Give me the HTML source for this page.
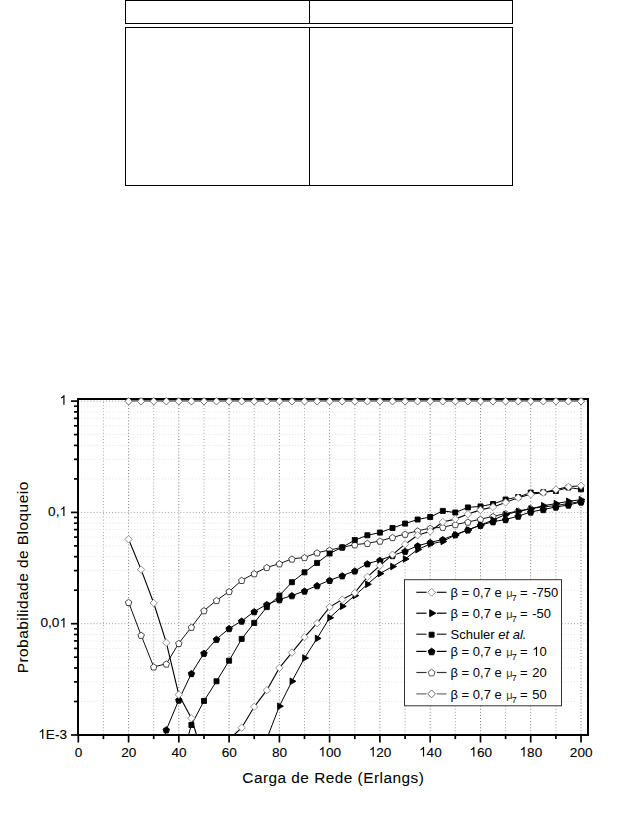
<!DOCTYPE html><html><head><meta charset="utf-8"><style>html,body{margin:0;padding:0;background:#fff;width:638px;height:821px;overflow:hidden}svg{position:absolute;left:0;top:0}text{font-family:"Liberation Sans",sans-serif;fill:#000}</style></head><body>
<svg width="638" height="821" viewBox="0 0 638 821">
<g fill="#000" shape-rendering="crispEdges">
<rect x="125" y="0" width="388" height="1"/>
<rect x="125" y="23" width="388" height="1"/>
<rect x="125" y="0" width="1" height="24"/>
<rect x="512" y="0" width="1" height="24"/>
<rect x="309" y="0" width="1" height="24"/>
<rect x="125" y="27" width="388" height="1"/>
<rect x="125" y="185" width="388" height="1"/>
<rect x="125" y="27" width="1" height="159"/>
<rect x="512" y="27" width="1" height="159"/>
<rect x="309" y="27" width="1" height="159"/>
</g>
<line x1="103.4" y1="398.7" x2="103.4" y2="734.9" stroke="#a0a0a0" stroke-width="1" stroke-dasharray="1 2.1"/>
<line x1="128.6" y1="398.7" x2="128.6" y2="734.9" stroke="#7a7a7a" stroke-width="1" stroke-dasharray="1 2.1"/>
<line x1="153.7" y1="398.7" x2="153.7" y2="734.9" stroke="#a0a0a0" stroke-width="1" stroke-dasharray="1 2.1"/>
<line x1="178.8" y1="398.7" x2="178.8" y2="734.9" stroke="#7a7a7a" stroke-width="1" stroke-dasharray="1 2.1"/>
<line x1="204.0" y1="398.7" x2="204.0" y2="734.9" stroke="#a0a0a0" stroke-width="1" stroke-dasharray="1 2.1"/>
<line x1="229.1" y1="398.7" x2="229.1" y2="734.9" stroke="#7a7a7a" stroke-width="1" stroke-dasharray="1 2.1"/>
<line x1="254.2" y1="398.7" x2="254.2" y2="734.9" stroke="#a0a0a0" stroke-width="1" stroke-dasharray="1 2.1"/>
<line x1="279.4" y1="398.7" x2="279.4" y2="734.9" stroke="#7a7a7a" stroke-width="1" stroke-dasharray="1 2.1"/>
<line x1="304.5" y1="398.7" x2="304.5" y2="734.9" stroke="#a0a0a0" stroke-width="1" stroke-dasharray="1 2.1"/>
<line x1="329.6" y1="398.7" x2="329.6" y2="734.9" stroke="#7a7a7a" stroke-width="1" stroke-dasharray="1 2.1"/>
<line x1="354.8" y1="398.7" x2="354.8" y2="734.9" stroke="#a0a0a0" stroke-width="1" stroke-dasharray="1 2.1"/>
<line x1="379.9" y1="398.7" x2="379.9" y2="734.9" stroke="#7a7a7a" stroke-width="1" stroke-dasharray="1 2.1"/>
<line x1="405.1" y1="398.7" x2="405.1" y2="734.9" stroke="#a0a0a0" stroke-width="1" stroke-dasharray="1 2.1"/>
<line x1="430.2" y1="398.7" x2="430.2" y2="734.9" stroke="#7a7a7a" stroke-width="1" stroke-dasharray="1 2.1"/>
<line x1="455.3" y1="398.7" x2="455.3" y2="734.9" stroke="#a0a0a0" stroke-width="1" stroke-dasharray="1 2.1"/>
<line x1="480.5" y1="398.7" x2="480.5" y2="734.9" stroke="#7a7a7a" stroke-width="1" stroke-dasharray="1 2.1"/>
<line x1="505.6" y1="398.7" x2="505.6" y2="734.9" stroke="#a0a0a0" stroke-width="1" stroke-dasharray="1 2.1"/>
<line x1="530.7" y1="398.7" x2="530.7" y2="734.9" stroke="#7a7a7a" stroke-width="1" stroke-dasharray="1 2.1"/>
<line x1="555.9" y1="398.7" x2="555.9" y2="734.9" stroke="#a0a0a0" stroke-width="1" stroke-dasharray="1 2.1"/>
<line x1="581.0" y1="398.7" x2="581.0" y2="734.9" stroke="#7a7a7a" stroke-width="1" stroke-dasharray="1 2.1"/>
<line x1="78.0" y1="512.4" x2="588.3" y2="512.4" stroke="#9a9a9a" stroke-width="1" stroke-dasharray="1 2.1"/>
<line x1="78.0" y1="478.9" x2="588.3" y2="478.9" stroke="#e2e2e2" stroke-width="1" stroke-dasharray="1 2.1"/>
<line x1="78.0" y1="459.3" x2="588.3" y2="459.3" stroke="#e2e2e2" stroke-width="1" stroke-dasharray="1 2.1"/>
<line x1="78.0" y1="445.4" x2="588.3" y2="445.4" stroke="#e2e2e2" stroke-width="1" stroke-dasharray="1 2.1"/>
<line x1="78.0" y1="434.6" x2="588.3" y2="434.6" stroke="#e2e2e2" stroke-width="1" stroke-dasharray="1 2.1"/>
<line x1="78.0" y1="425.8" x2="588.3" y2="425.8" stroke="#e2e2e2" stroke-width="1" stroke-dasharray="1 2.1"/>
<line x1="78.0" y1="418.3" x2="588.3" y2="418.3" stroke="#e2e2e2" stroke-width="1" stroke-dasharray="1 2.1"/>
<line x1="78.0" y1="411.9" x2="588.3" y2="411.9" stroke="#e2e2e2" stroke-width="1" stroke-dasharray="1 2.1"/>
<line x1="78.0" y1="406.2" x2="588.3" y2="406.2" stroke="#e2e2e2" stroke-width="1" stroke-dasharray="1 2.1"/>
<line x1="78.0" y1="623.7" x2="588.3" y2="623.7" stroke="#9a9a9a" stroke-width="1" stroke-dasharray="1 2.1"/>
<line x1="78.0" y1="590.2" x2="588.3" y2="590.2" stroke="#e2e2e2" stroke-width="1" stroke-dasharray="1 2.1"/>
<line x1="78.0" y1="570.6" x2="588.3" y2="570.6" stroke="#e2e2e2" stroke-width="1" stroke-dasharray="1 2.1"/>
<line x1="78.0" y1="556.7" x2="588.3" y2="556.7" stroke="#e2e2e2" stroke-width="1" stroke-dasharray="1 2.1"/>
<line x1="78.0" y1="545.9" x2="588.3" y2="545.9" stroke="#e2e2e2" stroke-width="1" stroke-dasharray="1 2.1"/>
<line x1="78.0" y1="537.1" x2="588.3" y2="537.1" stroke="#e2e2e2" stroke-width="1" stroke-dasharray="1 2.1"/>
<line x1="78.0" y1="529.6" x2="588.3" y2="529.6" stroke="#e2e2e2" stroke-width="1" stroke-dasharray="1 2.1"/>
<line x1="78.0" y1="523.2" x2="588.3" y2="523.2" stroke="#e2e2e2" stroke-width="1" stroke-dasharray="1 2.1"/>
<line x1="78.0" y1="517.5" x2="588.3" y2="517.5" stroke="#e2e2e2" stroke-width="1" stroke-dasharray="1 2.1"/>
<line x1="78.0" y1="701.5" x2="588.3" y2="701.5" stroke="#e2e2e2" stroke-width="1" stroke-dasharray="1 2.1"/>
<line x1="78.0" y1="681.9" x2="588.3" y2="681.9" stroke="#e2e2e2" stroke-width="1" stroke-dasharray="1 2.1"/>
<line x1="78.0" y1="668.0" x2="588.3" y2="668.0" stroke="#e2e2e2" stroke-width="1" stroke-dasharray="1 2.1"/>
<line x1="78.0" y1="657.2" x2="588.3" y2="657.2" stroke="#e2e2e2" stroke-width="1" stroke-dasharray="1 2.1"/>
<line x1="78.0" y1="648.4" x2="588.3" y2="648.4" stroke="#e2e2e2" stroke-width="1" stroke-dasharray="1 2.1"/>
<line x1="78.0" y1="640.9" x2="588.3" y2="640.9" stroke="#e2e2e2" stroke-width="1" stroke-dasharray="1 2.1"/>
<line x1="78.0" y1="634.5" x2="588.3" y2="634.5" stroke="#e2e2e2" stroke-width="1" stroke-dasharray="1 2.1"/>
<line x1="78.0" y1="628.8" x2="588.3" y2="628.8" stroke="#e2e2e2" stroke-width="1" stroke-dasharray="1 2.1"/>
<line x1="78.0" y1="401.1" x2="588.3" y2="401.1" stroke="#9a9a9a" stroke-width="1" stroke-dasharray="1 2.1"/>
<g stroke="#000" stroke-width="1.7" fill="none">
<line x1="71" y1="401.1" x2="78.0" y2="401.1"/>
<line x1="71" y1="512.4" x2="78.0" y2="512.4"/>
<line x1="71" y1="623.7" x2="78.0" y2="623.7"/>
<line x1="71" y1="735.0" x2="78.0" y2="735.0"/>
<line x1="74" y1="478.9" x2="78.0" y2="478.9"/>
<line x1="74" y1="459.3" x2="78.0" y2="459.3"/>
<line x1="74" y1="445.4" x2="78.0" y2="445.4"/>
<line x1="74" y1="434.6" x2="78.0" y2="434.6"/>
<line x1="74" y1="425.8" x2="78.0" y2="425.8"/>
<line x1="74" y1="418.3" x2="78.0" y2="418.3"/>
<line x1="74" y1="411.9" x2="78.0" y2="411.9"/>
<line x1="74" y1="406.2" x2="78.0" y2="406.2"/>
<line x1="74" y1="590.2" x2="78.0" y2="590.2"/>
<line x1="74" y1="570.6" x2="78.0" y2="570.6"/>
<line x1="74" y1="556.7" x2="78.0" y2="556.7"/>
<line x1="74" y1="545.9" x2="78.0" y2="545.9"/>
<line x1="74" y1="537.1" x2="78.0" y2="537.1"/>
<line x1="74" y1="529.6" x2="78.0" y2="529.6"/>
<line x1="74" y1="523.2" x2="78.0" y2="523.2"/>
<line x1="74" y1="517.5" x2="78.0" y2="517.5"/>
<line x1="74" y1="701.5" x2="78.0" y2="701.5"/>
<line x1="74" y1="681.9" x2="78.0" y2="681.9"/>
<line x1="74" y1="668.0" x2="78.0" y2="668.0"/>
<line x1="74" y1="657.2" x2="78.0" y2="657.2"/>
<line x1="74" y1="648.4" x2="78.0" y2="648.4"/>
<line x1="74" y1="640.9" x2="78.0" y2="640.9"/>
<line x1="74" y1="634.5" x2="78.0" y2="634.5"/>
<line x1="74" y1="628.8" x2="78.0" y2="628.8"/>
<line x1="78.3" y1="734.9" x2="78.3" y2="742.5"/>
<line x1="103.4" y1="734.9" x2="103.4" y2="739.1"/>
<line x1="128.6" y1="734.9" x2="128.6" y2="742.5"/>
<line x1="153.7" y1="734.9" x2="153.7" y2="739.1"/>
<line x1="178.8" y1="734.9" x2="178.8" y2="742.5"/>
<line x1="204.0" y1="734.9" x2="204.0" y2="739.1"/>
<line x1="229.1" y1="734.9" x2="229.1" y2="742.5"/>
<line x1="254.2" y1="734.9" x2="254.2" y2="739.1"/>
<line x1="279.4" y1="734.9" x2="279.4" y2="742.5"/>
<line x1="304.5" y1="734.9" x2="304.5" y2="739.1"/>
<line x1="329.6" y1="734.9" x2="329.6" y2="742.5"/>
<line x1="354.8" y1="734.9" x2="354.8" y2="739.1"/>
<line x1="379.9" y1="734.9" x2="379.9" y2="742.5"/>
<line x1="405.1" y1="734.9" x2="405.1" y2="739.1"/>
<line x1="430.2" y1="734.9" x2="430.2" y2="742.5"/>
<line x1="455.3" y1="734.9" x2="455.3" y2="739.1"/>
<line x1="480.5" y1="734.9" x2="480.5" y2="742.5"/>
<line x1="505.6" y1="734.9" x2="505.6" y2="739.1"/>
<line x1="530.7" y1="734.9" x2="530.7" y2="742.5"/>
<line x1="555.9" y1="734.9" x2="555.9" y2="739.1"/>
<line x1="581.0" y1="734.9" x2="581.0" y2="742.5"/>
</g>
<g font-size="13.6" stroke="#000" stroke-width="0.1">
<text x="78.5" y="756.5" text-anchor="middle">0</text>
<text x="128.8" y="756.5" text-anchor="middle">20</text>
<text x="179.0" y="756.5" text-anchor="middle">40</text>
<text x="229.3" y="756.5" text-anchor="middle">60</text>
<text x="279.6" y="756.5" text-anchor="middle">80</text>
<text x="329.8" y="756.5" text-anchor="middle"> 00</text>
<text x="380.1" y="756.5" text-anchor="middle"> 20</text>
<text x="430.4" y="756.5" text-anchor="middle"> 40</text>
<text x="480.7" y="756.5" text-anchor="middle"> 60</text>
<text x="530.9" y="756.5" text-anchor="middle"> 80</text>
<text x="581.2" y="756.5" text-anchor="middle">200</text>
<text x="67.0" y="404.8" text-anchor="end"> </text>
<text x="67.0" y="516.1" text-anchor="end">0, </text>
<text x="67.0" y="627.4" text-anchor="end">0,0 </text>
<text x="67.0" y="738.7" text-anchor="end"> E-3</text>
</g>
<text x="242.3" y="782.7" font-size="15.4" stroke="#000" stroke-width="0.05" textLength="181.5" lengthAdjust="spacing">Carga de Rede (Erlangs)</text>
<text transform="translate(28.4,673.3) rotate(-90)" font-size="15.4" stroke="#000" stroke-width="0.05" textLength="191.5" lengthAdjust="spacing">Probabilidade de Bloqueio</text>
<g fill="#000" shape-rendering="crispEdges">
<rect x="77" y="398" width="512" height="2"/>
<rect x="77" y="734" width="512" height="2"/>
<rect x="77" y="398" width="2" height="338"/>
<rect x="587" y="398" width="2" height="338"/>
</g>
<clipPath id="cp"><rect x="78.0" y="398.7" width="510.29999999999995" height="336.2"/></clipPath>
<path clip-path="url(#cp)" d="M128.6,602.3L141.1,635.2L153.7,666.8L166.3,663.9L178.8,643.3L191.4,627.2L204.0,610.6L216.5,600.4L229.1,591.5L241.7,580.3L254.2,573.6L266.8,567.4L279.4,563.7L291.9,558.9L304.5,557.5L317.1,552.7L329.6,550.0L342.2,547.3L354.8,544.7L367.4,543.3L379.9,541.0L392.5,537.4L405.1,534.1L417.6,530.8L430.2,528.2L442.8,527.2L455.3,524.5L467.9,522.0L480.5,519.2L493.0,516.4L505.6,513.5L518.2,511.0L530.7,508.5L543.3,507.0L555.9,505.5L568.4,503.5L581.0,501.5" fill="none" stroke="#111" stroke-width="1.0"/>
<path d="M128.6,599.3L131.8,601.6L130.6,605.5L126.6,605.5L125.3,601.6ZM141.1,632.2L144.4,634.5L143.1,638.4L139.1,638.4L137.9,634.5ZM153.7,663.8L156.9,666.1L155.7,670.0L151.7,670.0L150.5,666.1ZM166.3,660.9L169.5,663.2L168.3,667.1L164.3,667.1L163.0,663.2ZM178.8,640.3L182.1,642.6L180.8,646.5L176.8,646.5L175.6,642.6ZM191.4,624.2L194.6,626.5L193.4,630.4L189.4,630.4L188.2,626.5ZM204.0,607.6L207.2,609.9L206.0,613.8L202.0,613.8L200.7,609.9ZM216.5,597.4L219.8,599.7L218.5,603.6L214.5,603.6L213.3,599.7ZM229.1,588.5L232.3,590.8L231.1,594.7L227.1,594.7L225.9,590.8ZM241.7,577.3L244.9,579.6L243.7,583.5L239.7,583.5L238.4,579.6ZM254.2,570.6L257.5,572.9L256.2,576.8L252.2,576.8L251.0,572.9ZM266.8,564.4L270.0,566.7L268.8,570.6L264.8,570.6L263.6,566.7ZM279.4,560.7L282.6,563.0L281.4,566.9L277.4,566.9L276.1,563.0ZM291.9,555.9L295.2,558.2L293.9,562.1L289.9,562.1L288.7,558.2ZM304.5,554.5L307.7,556.8L306.5,560.7L302.5,560.7L301.3,556.8ZM317.1,549.7L320.3,552.0L319.1,555.9L315.1,555.9L313.8,552.0ZM329.6,547.0L332.9,549.3L331.6,553.2L327.7,553.2L326.4,549.3ZM342.2,544.3L345.5,546.6L344.2,550.5L340.2,550.5L339.0,546.6ZM354.8,541.7L358.0,544.0L356.8,547.9L352.8,547.9L351.6,544.0ZM367.4,540.3L370.6,542.6L369.4,546.5L365.4,546.5L364.1,542.6ZM379.9,538.0L383.2,540.3L381.9,544.2L377.9,544.2L376.7,540.3ZM392.5,534.4L395.7,536.7L394.5,540.6L390.5,540.6L389.3,536.7ZM405.1,531.1L408.3,533.4L407.1,537.3L403.1,537.3L401.8,533.4ZM417.6,527.8L420.9,530.1L419.6,534.0L415.6,534.0L414.4,530.1ZM430.2,525.2L433.4,527.5L432.2,531.4L428.2,531.4L427.0,527.5ZM442.8,524.2L446.0,526.5L444.8,530.4L440.8,530.4L439.5,526.5ZM455.3,521.5L458.6,523.8L457.3,527.7L453.3,527.7L452.1,523.8ZM467.9,519.0L471.1,521.3L469.9,525.2L465.9,525.2L464.7,521.3ZM480.5,516.2L483.7,518.5L482.5,522.4L478.5,522.4L477.2,518.5ZM493.0,513.4L496.3,515.7L495.0,519.6L491.0,519.6L489.8,515.7ZM505.6,510.5L508.8,512.8L507.6,516.7L503.6,516.7L502.4,512.8ZM518.2,508.0L521.4,510.3L520.2,514.2L516.2,514.2L514.9,510.3ZM530.7,505.5L534.0,507.8L532.7,511.7L528.7,511.7L527.5,507.8ZM543.3,504.0L546.5,506.3L545.3,510.2L541.3,510.2L540.1,506.3ZM555.9,502.5L559.1,504.8L557.9,508.7L553.9,508.7L552.6,504.8ZM568.4,500.5L571.7,502.8L570.4,506.7L566.4,506.7L565.2,502.8ZM581.0,498.5L584.2,500.8L583.0,504.7L579.0,504.7L577.8,500.8Z" fill="#fff" stroke="#333" stroke-width="0.9"/>
<path clip-path="url(#cp)" d="M188.5,735.0L191.4,725.0L204.0,700.9L216.5,681.3L229.1,660.7L241.7,638.9L254.2,622.9L266.8,607.1L279.4,595.6L291.9,582.2L304.5,572.3L317.1,562.9L329.6,553.5L342.2,547.3L354.8,540.1L367.4,535.3L379.9,532.6L392.5,528.0L405.1,523.6L417.6,519.5L430.2,517.0L442.8,510.9L455.3,512.5L467.9,507.4L480.5,506.4L493.0,504.0L505.6,499.5L518.2,497.0L530.7,492.6L543.3,492.3L555.9,491.0L568.4,487.5L581.0,489.3" fill="none" stroke="#000" stroke-width="1.0"/>
<path d="M188.9,722.5h5.0v5.0h-5.0ZM201.5,698.4h5.0v5.0h-5.0ZM214.0,678.8h5.0v5.0h-5.0ZM226.6,658.2h5.0v5.0h-5.0ZM239.2,636.4h5.0v5.0h-5.0ZM251.7,620.4h5.0v5.0h-5.0ZM264.3,604.6h5.0v5.0h-5.0ZM276.9,593.1h5.0v5.0h-5.0ZM289.4,579.7h5.0v5.0h-5.0ZM302.0,569.8h5.0v5.0h-5.0ZM314.6,560.4h5.0v5.0h-5.0ZM327.1,551.0h5.0v5.0h-5.0ZM339.7,544.8h5.0v5.0h-5.0ZM352.3,537.6h5.0v5.0h-5.0ZM364.9,532.8h5.0v5.0h-5.0ZM377.4,530.1h5.0v5.0h-5.0ZM390.0,525.5h5.0v5.0h-5.0ZM402.6,521.1h5.0v5.0h-5.0ZM415.1,517.0h5.0v5.0h-5.0ZM427.7,514.5h5.0v5.0h-5.0ZM440.3,508.4h5.0v5.0h-5.0ZM452.8,510.0h5.0v5.0h-5.0ZM465.4,504.9h5.0v5.0h-5.0ZM478.0,503.9h5.0v5.0h-5.0ZM490.5,501.5h5.0v5.0h-5.0ZM503.1,497.0h5.0v5.0h-5.0ZM515.7,494.5h5.0v5.0h-5.0ZM528.2,490.1h5.0v5.0h-5.0ZM540.8,489.8h5.0v5.0h-5.0ZM553.4,488.5h5.0v5.0h-5.0ZM565.9,485.0h5.0v5.0h-5.0ZM578.5,486.8h5.0v5.0h-5.0Z" fill="#000" stroke="#000" stroke-width="0.9"/>
<path clip-path="url(#cp)" d="M161.2,760.0L166.3,729.8L178.8,700.0L191.4,673.5L204.0,653.2L216.5,639.2L229.1,628.5L241.7,621.0L254.2,611.6L266.8,604.4L279.4,599.6L291.9,595.6L304.5,591.0L317.1,585.6L329.6,580.3L342.2,575.7L354.8,570.9L367.4,563.7L379.9,560.2L392.5,555.5L405.1,551.2L417.6,545.8L430.2,542.4L442.8,539.5L455.3,534.6L467.9,529.9L480.5,525.2L493.0,521.7L505.6,519.5L518.2,516.1L530.7,512.0L543.3,509.5L555.9,507.0L568.4,505.0L581.0,502.0" fill="none" stroke="#000" stroke-width="1.0"/>
<path d="M166.3,726.8L169.5,729.1L168.3,733.0L164.3,733.0L163.0,729.1ZM178.8,697.0L182.1,699.3L180.8,703.2L176.8,703.2L175.6,699.3ZM191.4,670.5L194.6,672.8L193.4,676.7L189.4,676.7L188.2,672.8ZM204.0,650.2L207.2,652.5L206.0,656.4L202.0,656.4L200.7,652.5ZM216.5,636.2L219.8,638.5L218.5,642.4L214.5,642.4L213.3,638.5ZM229.1,625.5L232.3,627.8L231.1,631.7L227.1,631.7L225.9,627.8ZM241.7,618.0L244.9,620.3L243.7,624.2L239.7,624.2L238.4,620.3ZM254.2,608.6L257.5,610.9L256.2,614.8L252.2,614.8L251.0,610.9ZM266.8,601.4L270.0,603.7L268.8,607.6L264.8,607.6L263.6,603.7ZM279.4,596.6L282.6,598.9L281.4,602.8L277.4,602.8L276.1,598.9ZM291.9,592.6L295.2,594.9L293.9,598.8L289.9,598.8L288.7,594.9ZM304.5,588.0L307.7,590.3L306.5,594.2L302.5,594.2L301.3,590.3ZM317.1,582.6L320.3,584.9L319.1,588.8L315.1,588.8L313.8,584.9ZM329.6,577.3L332.9,579.6L331.6,583.5L327.7,583.5L326.4,579.6ZM342.2,572.7L345.5,575.0L344.2,578.9L340.2,578.9L339.0,575.0ZM354.8,567.9L358.0,570.2L356.8,574.1L352.8,574.1L351.6,570.2ZM367.4,560.7L370.6,563.0L369.4,566.9L365.4,566.9L364.1,563.0ZM379.9,557.2L383.2,559.5L381.9,563.4L377.9,563.4L376.7,559.5ZM392.5,552.5L395.7,554.8L394.5,558.7L390.5,558.7L389.3,554.8ZM405.1,548.2L408.3,550.5L407.1,554.4L403.1,554.4L401.8,550.5ZM417.6,542.8L420.9,545.1L419.6,549.0L415.6,549.0L414.4,545.1ZM430.2,539.4L433.4,541.7L432.2,545.6L428.2,545.6L427.0,541.7ZM442.8,536.5L446.0,538.8L444.8,542.7L440.8,542.7L439.5,538.8ZM455.3,531.6L458.6,533.9L457.3,537.8L453.3,537.8L452.1,533.9ZM467.9,526.9L471.1,529.2L469.9,533.1L465.9,533.1L464.7,529.2ZM480.5,522.2L483.7,524.5L482.5,528.4L478.5,528.4L477.2,524.5ZM493.0,518.7L496.3,521.0L495.0,524.9L491.0,524.9L489.8,521.0ZM505.6,516.5L508.8,518.8L507.6,522.7L503.6,522.7L502.4,518.8ZM518.2,513.1L521.4,515.4L520.2,519.3L516.2,519.3L514.9,515.4ZM530.7,509.0L534.0,511.3L532.7,515.2L528.7,515.2L527.5,511.3ZM543.3,506.5L546.5,508.8L545.3,512.7L541.3,512.7L540.1,508.8ZM555.9,504.0L559.1,506.3L557.9,510.2L553.9,510.2L552.6,506.3ZM568.4,502.0L571.7,504.3L570.4,508.2L566.4,508.2L565.2,504.3ZM581.0,499.0L584.2,501.3L583.0,505.2L579.0,505.2L577.8,501.3Z" fill="#000" stroke="#000" stroke-width="0.9"/>
<path clip-path="url(#cp)" d="M268.3,735.0L279.4,706.2L291.9,681.3L304.5,658.0L317.1,638.4L329.6,617.8L342.2,606.3L354.8,595.6L367.4,584.3L379.9,573.6L392.5,566.5L405.1,559.0L417.6,549.6L430.2,544.0L442.8,541.4L455.3,535.0L467.9,530.0L480.5,525.0L493.0,520.0L505.6,514.5L518.2,511.4L530.7,508.9L543.3,505.7L555.9,503.6L568.4,501.3L581.0,499.7" fill="none" stroke="#000" stroke-width="1.0"/>
<path d="M277.6,702.9L283.4,706.2L277.6,709.5ZM290.1,678.0L295.9,681.3L290.1,684.6ZM302.7,654.7L308.5,658.0L302.7,661.3ZM315.3,635.1L321.1,638.4L315.3,641.7ZM327.8,614.5L333.6,617.8L327.8,621.1ZM340.4,603.0L346.2,606.3L340.4,609.6ZM353.0,592.3L358.8,595.6L353.0,598.9ZM365.6,581.0L371.4,584.3L365.6,587.6ZM378.1,570.3L383.9,573.6L378.1,576.9ZM390.7,563.2L396.5,566.5L390.7,569.8ZM403.3,555.7L409.1,559.0L403.3,562.3ZM415.8,546.3L421.6,549.6L415.8,552.9ZM428.4,540.7L434.2,544.0L428.4,547.3ZM441.0,538.1L446.8,541.4L441.0,544.7ZM453.5,531.7L459.3,535.0L453.5,538.3ZM466.1,526.7L471.9,530.0L466.1,533.3ZM478.7,521.7L484.5,525.0L478.7,528.3ZM491.2,516.7L497.0,520.0L491.2,523.3ZM503.8,511.2L509.6,514.5L503.8,517.8ZM516.4,508.1L522.2,511.4L516.4,514.7ZM528.9,505.6L534.7,508.9L528.9,512.2ZM541.5,502.4L547.3,505.7L541.5,509.0ZM554.1,500.3L559.9,503.6L554.1,506.9ZM566.6,498.0L572.4,501.3L566.6,504.6ZM579.2,496.4L585.0,499.7L579.2,503.0Z" fill="#000" stroke="#000" stroke-width="0.9"/>
<path clip-path="url(#cp)" d="M128.6,539.3L141.1,569.6L153.7,603.0L166.3,642.7L178.8,694.7L191.4,718.3L196.6,735.0" fill="none" stroke="#000" stroke-width="1.1"/>
<path clip-path="url(#cp)" d="M233.9,735.0L241.7,727.7L254.2,706.8L266.8,690.2L279.4,667.9L291.9,652.6L304.5,637.1L317.1,623.2L329.6,607.1L342.2,599.6L354.8,592.9L367.4,576.8L379.9,565.6L392.5,554.6L405.1,544.2L417.6,535.3L430.2,531.3L442.8,522.0L455.3,519.1L467.9,514.1L480.5,509.9L493.0,507.0L505.6,502.4L518.2,497.8L530.7,494.3L543.3,492.6L555.9,489.5L568.4,486.8L581.0,485.7" fill="none" stroke="#000" stroke-width="1.1"/>
<path d="M128.6,535.6L132.3,539.3L128.6,543.0L124.9,539.3ZM141.1,565.9L144.8,569.6L141.1,573.3L137.4,569.6ZM153.7,599.3L157.4,603.0L153.7,606.7L150.0,603.0ZM166.3,639.0L170.0,642.7L166.3,646.4L162.6,642.7ZM178.8,691.0L182.5,694.7L178.8,698.4L175.1,694.7ZM191.4,714.6L195.1,718.3L191.4,722.0L187.7,718.3ZM241.7,724.0L245.4,727.7L241.7,731.4L238.0,727.7ZM254.2,703.1L257.9,706.8L254.2,710.5L250.5,706.8ZM266.8,686.5L270.5,690.2L266.8,693.9L263.1,690.2ZM279.4,664.2L283.1,667.9L279.4,671.6L275.7,667.9ZM291.9,648.9L295.6,652.6L291.9,656.3L288.2,652.6ZM304.5,633.4L308.2,637.1L304.5,640.8L300.8,637.1ZM317.1,619.5L320.8,623.2L317.1,626.9L313.4,623.2ZM329.6,603.4L333.3,607.1L329.6,610.8L325.9,607.1ZM342.2,595.9L345.9,599.6L342.2,603.3L338.5,599.6ZM354.8,589.2L358.5,592.9L354.8,596.6L351.1,592.9ZM367.4,573.1L371.1,576.8L367.4,580.5L363.7,576.8ZM379.9,561.9L383.6,565.6L379.9,569.3L376.2,565.6ZM392.5,550.9L396.2,554.6L392.5,558.3L388.8,554.6ZM405.1,540.5L408.8,544.2L405.1,547.9L401.4,544.2ZM417.6,531.6L421.3,535.3L417.6,539.0L413.9,535.3ZM430.2,527.6L433.9,531.3L430.2,535.0L426.5,531.3ZM442.8,518.3L446.5,522.0L442.8,525.7L439.1,522.0ZM455.3,515.4L459.0,519.1L455.3,522.8L451.6,519.1ZM467.9,510.4L471.6,514.1L467.9,517.8L464.2,514.1ZM480.5,506.2L484.2,509.9L480.5,513.6L476.8,509.9ZM493.0,503.3L496.7,507.0L493.0,510.7L489.3,507.0ZM505.6,498.7L509.3,502.4L505.6,506.1L501.9,502.4ZM518.2,494.1L521.9,497.8L518.2,501.5L514.5,497.8ZM530.7,490.6L534.4,494.3L530.7,498.0L527.0,494.3ZM543.3,488.9L547.0,492.6L543.3,496.3L539.6,492.6ZM555.9,485.8L559.6,489.5L555.9,493.2L552.2,489.5ZM568.4,483.1L572.1,486.8L568.4,490.5L564.7,486.8ZM581.0,482.0L584.7,485.7L581.0,489.4L577.3,485.7Z" fill="#fff" stroke="#8a8a8a" stroke-width="0.9"/>
<path clip-path="url(#cp)" d="M128.6,400.9L141.1,400.9L153.7,400.9L166.3,400.9L178.8,400.9L191.4,400.9L204.0,400.9L216.5,400.9L229.1,400.9L241.7,400.9L254.2,400.9L266.8,400.9L279.4,400.9L291.9,400.9L304.5,400.9L317.1,400.9L329.6,400.9L342.2,400.9L354.8,400.9L367.4,400.9L379.9,400.9L392.5,400.9L405.1,400.9L417.6,400.9L430.2,400.9L442.8,400.9L455.3,400.9L467.9,400.9L480.5,400.9L493.0,400.9L505.6,400.9L518.2,400.9L530.7,400.9L543.3,400.9L555.9,400.9L568.4,400.9L581.0,400.9" fill="none" stroke="#7a7a7a" stroke-width="1.8"/>
<path d="M128.6,397.6L132.3,401.3L128.6,405.0L124.9,401.3ZM141.1,397.6L144.8,401.3L141.1,405.0L137.4,401.3ZM153.7,397.6L157.4,401.3L153.7,405.0L150.0,401.3ZM166.3,397.6L170.0,401.3L166.3,405.0L162.6,401.3ZM178.8,397.6L182.5,401.3L178.8,405.0L175.1,401.3ZM191.4,397.6L195.1,401.3L191.4,405.0L187.7,401.3ZM204.0,397.6L207.7,401.3L204.0,405.0L200.3,401.3ZM216.5,397.6L220.2,401.3L216.5,405.0L212.8,401.3ZM229.1,397.6L232.8,401.3L229.1,405.0L225.4,401.3ZM241.7,397.6L245.4,401.3L241.7,405.0L238.0,401.3ZM254.2,397.6L257.9,401.3L254.2,405.0L250.5,401.3ZM266.8,397.6L270.5,401.3L266.8,405.0L263.1,401.3ZM279.4,397.6L283.1,401.3L279.4,405.0L275.7,401.3ZM291.9,397.6L295.6,401.3L291.9,405.0L288.2,401.3ZM304.5,397.6L308.2,401.3L304.5,405.0L300.8,401.3ZM317.1,397.6L320.8,401.3L317.1,405.0L313.4,401.3ZM329.6,397.6L333.3,401.3L329.6,405.0L325.9,401.3ZM342.2,397.6L345.9,401.3L342.2,405.0L338.5,401.3ZM354.8,397.6L358.5,401.3L354.8,405.0L351.1,401.3ZM367.4,397.6L371.1,401.3L367.4,405.0L363.7,401.3ZM379.9,397.6L383.6,401.3L379.9,405.0L376.2,401.3ZM392.5,397.6L396.2,401.3L392.5,405.0L388.8,401.3ZM405.1,397.6L408.8,401.3L405.1,405.0L401.4,401.3ZM417.6,397.6L421.3,401.3L417.6,405.0L413.9,401.3ZM430.2,397.6L433.9,401.3L430.2,405.0L426.5,401.3ZM442.8,397.6L446.5,401.3L442.8,405.0L439.1,401.3ZM455.3,397.6L459.0,401.3L455.3,405.0L451.6,401.3ZM467.9,397.6L471.6,401.3L467.9,405.0L464.2,401.3ZM480.5,397.6L484.2,401.3L480.5,405.0L476.8,401.3ZM493.0,397.6L496.7,401.3L493.0,405.0L489.3,401.3ZM505.6,397.6L509.3,401.3L505.6,405.0L501.9,401.3ZM518.2,397.6L521.9,401.3L518.2,405.0L514.5,401.3ZM530.7,397.6L534.4,401.3L530.7,405.0L527.0,401.3ZM543.3,397.6L547.0,401.3L543.3,405.0L539.6,401.3ZM555.9,397.6L559.6,401.3L555.9,405.0L552.2,401.3ZM568.4,397.6L572.1,401.3L568.4,405.0L564.7,401.3ZM581.0,397.6L584.7,401.3L581.0,405.0L577.3,401.3Z" fill="#fff" stroke="#606060" stroke-width="0.9"/>
<rect x="404.5" y="579.7" width="157.0" height="126.09999999999991" fill="#fff" stroke="#333" stroke-width="1"/>
<line x1="416.3" y1="592.3" x2="426.5" y2="592.3" stroke="#111" stroke-width="1.2"/>
<line x1="436.8" y1="592.3" x2="446.5" y2="592.3" stroke="#111" stroke-width="1.2"/>
<path transform="translate(431.6,592.3) scale(1.06) translate(-431.6,-592.3)" d="M431.6,588.6L435.3,592.3L431.6,596.0L427.9,592.3Z" fill="#fff" stroke="#888" stroke-width="0.9"/>
<text x="450.5" y="596.9" font-size="13">β = 0,7 e <tspan font-size="11" dx="0.8" fill="#333">μ</tspan><tspan font-size="9" dy="4.2" dx="-0.8">7</tspan><tspan dy="-4.2" dx="-0.4"> =</tspan><tspan dx="1.1"> -750</tspan></text>
<line x1="416.3" y1="613.2" x2="426.5" y2="613.2" stroke="#000" stroke-width="1.2"/>
<line x1="436.8" y1="613.2" x2="446.5" y2="613.2" stroke="#000" stroke-width="1.2"/>
<path transform="translate(431.6,613.2) scale(1.06) translate(-431.6,-613.2)" d="M429.8,609.9L435.6,613.2L429.8,616.5Z" fill="#000" stroke="#000" stroke-width="0.9"/>
<text x="450.5" y="617.8" font-size="13">β = 0,7 e <tspan font-size="11" dx="0.8" fill="#333">μ</tspan><tspan font-size="9" dy="4.2" dx="-0.8">7</tspan><tspan dy="-4.2" dx="-0.4"> =</tspan><tspan dx="1.1"> -50</tspan></text>
<line x1="416.3" y1="634.2" x2="426.5" y2="634.2" stroke="#222" stroke-width="1.2"/>
<line x1="436.8" y1="634.2" x2="446.5" y2="634.2" stroke="#222" stroke-width="1.2"/>
<path transform="translate(431.6,634.7) scale(1.0) translate(-431.6,-634.7)" d="M429.1,632.2h5.0v5.0h-5.0Z" fill="#000" stroke="#000" stroke-width="0.9"/>
<text x="450.5" y="638.8" font-size="13">Schuler <tspan font-style="italic">et al.</tspan></text>
<line x1="416.3" y1="651.4" x2="426.5" y2="651.4" stroke="#000" stroke-width="1.2"/>
<line x1="436.8" y1="651.4" x2="446.5" y2="651.4" stroke="#000" stroke-width="1.2"/>
<path transform="translate(431.6,651.4) scale(1.06) translate(-431.6,-651.4)" d="M431.6,648.4L434.8,650.7L433.6,654.6L429.6,654.6L428.4,650.7Z" fill="#000" stroke="#000" stroke-width="0.9"/>
<text x="450.5" y="656.0" font-size="13">β = 0,7 e <tspan font-size="11" dx="0.8" fill="#333">μ</tspan><tspan font-size="9" dy="4.2" dx="-0.8">7</tspan><tspan dy="-4.2" dx="-0.4"> =</tspan><tspan dx="1.1">  0</tspan></text>
<line x1="416.3" y1="672.5" x2="426.5" y2="672.5" stroke="#333" stroke-width="1.2"/>
<line x1="436.8" y1="672.5" x2="446.5" y2="672.5" stroke="#333" stroke-width="1.2"/>
<path transform="translate(431.6,672.5) scale(1.06) translate(-431.6,-672.5)" d="M431.6,669.5L434.8,671.8L433.6,675.7L429.6,675.7L428.4,671.8Z" fill="#fff" stroke="#555" stroke-width="0.9"/>
<text x="450.5" y="677.1" font-size="13">β = 0,7 e <tspan font-size="11" dx="0.8" fill="#333">μ</tspan><tspan font-size="9" dy="4.2" dx="-0.8">7</tspan><tspan dy="-4.2" dx="-0.4"> =</tspan><tspan dx="1.1"> 20</tspan></text>
<line x1="416.3" y1="693.9" x2="426.5" y2="693.9" stroke="#6a6a6a" stroke-width="1.2"/>
<line x1="436.8" y1="693.9" x2="446.5" y2="693.9" stroke="#6a6a6a" stroke-width="1.2"/>
<path transform="translate(431.6,693.9) scale(1.06) translate(-431.6,-693.9)" d="M431.6,690.2L435.3,693.9L431.6,697.6L427.9,693.9Z" fill="#fff" stroke="#666" stroke-width="0.9"/>
<text x="450.5" y="698.5" font-size="13">β = 0,7 e <tspan font-size="11" dx="0.8" fill="#333">μ</tspan><tspan font-size="9" dy="4.2" dx="-0.8">7</tspan><tspan dy="-4.2" dx="-0.4"> =</tspan><tspan dx="1.1"> 50</tspan></text>
<g fill="#000"><path transform="translate(318.46,756.50) scale(0.00664,-0.00664)" d="M763,0L583,0L583,1147C539,1105 481,1063 409,1021C338,979 274,947 217,926L217,1100C319,1148 408,1206 484,1274C560,1342 614,1408 646,1472L763,1472Z"/><path transform="translate(368.76,756.50) scale(0.00664,-0.00664)" d="M763,0L583,0L583,1147C539,1105 481,1063 409,1021C338,979 274,947 217,926L217,1100C319,1148 408,1206 484,1274C560,1342 614,1408 646,1472L763,1472Z"/><path transform="translate(419.06,756.50) scale(0.00664,-0.00664)" d="M763,0L583,0L583,1147C539,1105 481,1063 409,1021C338,979 274,947 217,926L217,1100C319,1148 408,1206 484,1274C560,1342 614,1408 646,1472L763,1472Z"/><path transform="translate(469.36,756.50) scale(0.00664,-0.00664)" d="M763,0L583,0L583,1147C539,1105 481,1063 409,1021C338,979 274,947 217,926L217,1100C319,1148 408,1206 484,1274C560,1342 614,1408 646,1472L763,1472Z"/><path transform="translate(519.56,756.50) scale(0.00664,-0.00664)" d="M763,0L583,0L583,1147C539,1105 481,1063 409,1021C338,979 274,947 217,926L217,1100C319,1148 408,1206 484,1274C560,1342 614,1408 646,1472L763,1472Z"/><path transform="translate(59.44,404.80) scale(0.00664,-0.00664)" d="M763,0L583,0L583,1147C539,1105 481,1063 409,1021C338,979 274,947 217,926L217,1100C319,1148 408,1206 484,1274C560,1342 614,1408 646,1472L763,1472Z"/><path transform="translate(59.42,516.10) scale(0.00664,-0.00664)" d="M763,0L583,0L583,1147C539,1105 481,1063 409,1021C338,979 274,947 217,926L217,1100C319,1148 408,1206 484,1274C560,1342 614,1408 646,1472L763,1472Z"/><path transform="translate(59.42,627.40) scale(0.00664,-0.00664)" d="M763,0L583,0L583,1147C539,1105 481,1063 409,1021C338,979 274,947 217,926L217,1100C319,1148 408,1206 484,1274C560,1342 614,1408 646,1472L763,1472Z"/><path transform="translate(38.28,738.70) scale(0.00664,-0.00664)" d="M763,0L583,0L583,1147C539,1105 481,1063 409,1021C338,979 274,947 217,926L217,1100C319,1148 408,1206 484,1274C560,1342 614,1408 646,1472L763,1472Z"/><path transform="translate(532.22,656.00) scale(0.00635,-0.00635)" d="M763,0L583,0L583,1147C539,1105 481,1063 409,1021C338,979 274,947 217,926L217,1100C319,1148 408,1206 484,1274C560,1342 614,1408 646,1472L763,1472Z"/></g></svg></body></html>
